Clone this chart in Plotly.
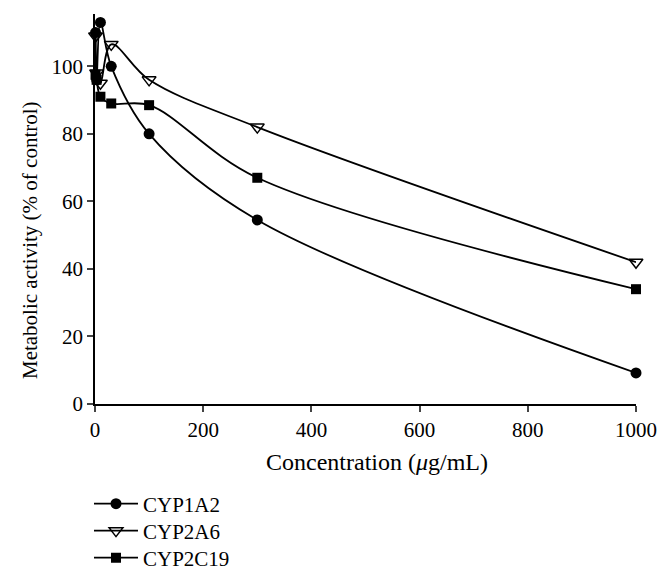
import plotly.graph_objects as go

concentration = [1, 3, 10, 30, 100, 300, 1000]
cyp1a2 = [110, 96, 113, 100, 80, 54.5, 9.2]
cyp2a6 = [109, 98, 95, 106.5, 96, 82, 42]
cyp2c19 = [97.5, 96, 91, 89, 88.5, 67, 34]

x_ticks = [0, 200, 400, 600, 800, 1000]
y_ticks = [0, 20, 40, 60, 80, 100]

FONT = "Liberation Serif, Times New Roman, serif"

fig = go.Figure()
series = [
    ("CYP1A2", cyp1a2, dict(symbol="circle", size=11, color="black"), "legend", -0.2564),
    ("CYP2A6", cyp2a6, dict(symbol="triangle-down-open", size=12, color="black", line=dict(width=1.5)), "legend2", -0.3256),
    ("CYP2C19", cyp2c19, dict(symbol="square", size=10, color="black"), "legend3", -0.3949),
]
legend_cfg = {}
for name, vals, marker, leg, ly in series:
    fig.add_trace(go.Scatter(
        x=concentration, y=vals, name=name, mode="lines+markers",
        line=dict(color="black", width=1.8, shape="spline", smoothing=1.0),
        marker=marker, cliponaxis=False, legend=leg,
    ))
    legend_cfg[leg] = dict(x=-0.0111, xanchor="left", y=ly, yanchor="middle",
                           font=dict(size=21), bgcolor="rgba(0,0,0,0)",
                           itemwidth=44)

fig.update_layout(
    width=662, height=570,
    paper_bgcolor="white", plot_bgcolor="white",
    margin=dict(l=87, r=34, t=6, b=174, autoexpand=False),
    font=dict(family=FONT, size=21, color="black"),
    showlegend=True,
    xaxis=dict(range=[0, 1000], tickvals=x_ticks, ticks="outside", ticklen=6,
               tickwidth=1.5, showline=True, linecolor="black", linewidth=1.8,
               showgrid=False, zeroline=False),
    yaxis=dict(range=[0, 115.5], tickvals=y_ticks, ticks="outside", ticklen=6,
               tickwidth=1.5, showline=True, linecolor="black", linewidth=1.8,
               showgrid=False, zeroline=False),
    annotations=[
        dict(text="Concentration (<i>μ</i>g/mL)", xref="paper", yref="paper",
             x=0.5213, y=-0.1487, xanchor="center", yanchor="middle",
             showarrow=False, font=dict(size=24)),
        dict(text="Metabolic activity (% of control)", xref="paper", yref="paper",
             x=-0.1201, y=0.4205, xanchor="center", yanchor="middle",
             textangle=-90, showarrow=False, font=dict(size=21)),
    ],
    **legend_cfg,
)

fig.write_html("out.html")
